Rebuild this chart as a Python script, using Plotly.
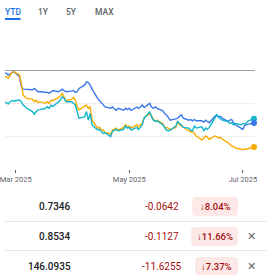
import pandas as pd
import plotly.graph_objects as go

# ---------------- data ----------------
dates = pd.bdate_range("2025-02-21", "2025-07-07")

blue_pct = [
    -0.5,
    -0.5, -0.76, -0.6, -0.35, -0.25,
    -1.0, -2.5, -2.9, -2.9, -3.0,
    -3.0, -2.8, -3.1, -3.3, -3.3,
    -3.3, -3.4, -3.5, -3.3, -3.1,
    -3.3, -3.1, -2.9, -3.1, -3.3,
    -3.2, -3.1, -3.4, -3.3, -2.8,
    -2.3, -1.8, -1.9, -2.3, -2.9,
    -4.3, -4.6, -4.9, -5.2, -5.6,
    -5.8, -5.6, -5.9, -6.1, -5.8,
    -6.1, -5.8, -6.0, -5.8, -6.1,
    -5.6, -5.8, -5.6, -5.3, -5.7,
    -5.05, -5.6, -5.8, -5.6, -5.8,
    -6.2, -6.6, -6.8, -7.2, -7.6,
    -7.4, -7.3, -7.0, -6.8, -7.3,
    -7.6, -7.5, -7.7, -7.5, -7.7,
    -7.7, -7.9, -7.6, -7.8, -8.0,
    -7.0, -6.8, -7.1, -7.0, -7.3,
    -7.8, -7.6, -7.5, -8.0, -8.3,
    -8.8, -9.0, -8.4, -8.3, -8.2,
    -8.04,
]
teal_pct = [
    -4.8,
    -4.95, -5.15, -4.8, -4.65, -4.7,
    -4.55, -4.8, -5.3, -5.55, -5.8,
    -6.3, -6.7, -6.3, -6.05, -6.0,
    -5.8, -5.55, -5.8, -5.3, -5.55,
    -4.8, -4.55, -4.05, -4.3, -4.8,
    -4.8, -5.05, -5.3, -6.3, -7.3,
    -7.1, -6.3, -7.6, -6.6, -8.3,
    -9.1, -9.0, -9.3, -9.6, -9.5,
    -10.1, -9.3, -9.1, -9.0, -9.2,
    -9.0, -8.5, -8.8, -8.7, -9.1,
    -8.7, -9.0, -8.7, -8.3, -7.3,
    -6.3, -7.1, -7.6, -7.8, -7.7,
    -8.3, -8.7, -9.1, -9.2, -9.1,
    -8.5, -7.8, -8.1, -8.3, -8.7,
    -8.8, -9.1, -9.2, -8.5, -8.8,
    -8.6, -9.2, -8.8, -9.0, -8.7,
    -7.3, -6.8, -7.2, -7.4, -7.6,
    -7.8, -8.1, -8.0, -8.3, -8.1,
    -8.3, -8.1, -8.2, -8.0, -7.7,
    -7.37,
]
yellow_pct = [
    -0.9,
    -1.0, -1.26, -0.76, -0.35, -0.25,
    -0.76, -2.0, -3.8, -4.1, -4.3,
    -4.4, -4.8, -4.55, -4.95, -4.8,
    -5.05, -4.8, -5.05, -4.55, -4.65,
    -4.15, -3.95, -3.55, -4.05, -4.65,
    -4.45, -4.15, -4.55, -5.55, -6.05,
    -5.55, -5.3, -5.8, -5.55, -7.6,
    -8.8, -8.7, -9.0, -9.1, -9.5,
    -9.7, -9.1, -9.0, -8.8, -9.1,
    -8.7, -8.3, -8.7, -8.5, -8.8,
    -8.3, -8.6, -8.3, -8.1, -7.2,
    -6.6, -7.0, -7.5, -7.7, -7.6,
    -8.1, -8.7, -8.7, -8.8, -9.0,
    -8.7, -7.8, -8.3, -8.5, -8.7,
    -9.2, -9.4, -9.3, -9.6, -10.0,
    -10.6, -10.3, -10.0, -10.2, -10.5,
    -10.0, -10.1, -10.3, -10.2, -10.5,
    -11.0, -11.3, -11.5, -11.6, -11.8,
    -12.0, -12.1, -12.0, -12.0, -11.9,
    -11.66,
]

tick_dates = ["2025-03-01", "2025-05-01", "2025-07-01"]
tick_labels = ["Mar 2025", "May 2025", "Jul 2025"]

tabs = ["YTD", "1Y", "5Y", "MAX"]

row_prices = ["0.7346", "0.8534", "146.0935"]
row_changes = ["-0.0642", "-0.1127", "-11.6255"]
row_pcts = ["↓8.04%", "↓11.66%", "↓7.37%"]
row_removable = [False, True, True]

# ---------------- figure ----------------
W = H = 280
BLUE = "#3b78e7"
TEAL = "#12b5cb"
YELLOW = "#f9ab00"
RED = "#a50e0e"


def px(x):
    return x / W


def py(y):
    return 1 - y / H


fig = go.Figure()
series = [(blue_pct, BLUE), (yellow_pct, YELLOW), (teal_pct, TEAL)]
for vals, col in series:
    fig.add_trace(go.Scatter(x=dates, y=vals, mode="lines",
                             line=dict(color=col, width=1.4),
                             hoverinfo="skip", showlegend=False))
for vals, col in [(yellow_pct, YELLOW), (teal_pct, TEAL), (blue_pct, BLUE)]:
    fig.add_trace(go.Scatter(x=[dates[-1]], y=[vals[-1]], mode="markers",
                             marker=dict(color=col, size=6),
                             cliponaxis=False, hoverinfo="skip",
                             showlegend=False))

fig.update_layout(
    width=W, height=H,
    margin=dict(l=0, r=0, t=0, b=0),
    paper_bgcolor="white", plot_bgcolor="white",
    font=dict(family="Roboto", color="#202124"),
    xaxis=dict(
        domain=[0, px(256)],
        range=["2025-02-23 06:00", "2025-07-07 08:00"],
        tickvals=tick_dates, ticktext=tick_labels,
        ticks="outside", ticklen=3, tickwidth=1, tickcolor="#5f6368",
        tickfont=dict(size=7.5, color="#5f6368"),
        ticklabeloverflow="allow",
        showgrid=False, zeroline=False, showline=False,
    ),
    yaxis=dict(
        domain=[py(169), py(37)],
        range=[-15, 5],
        tickvals=[-15, -10, -5, 0, 5],
        showticklabels=False,
        showgrid=True, gridcolor="#eceef0", gridwidth=1,
        zeroline=True, zerolinecolor="#9aa0a6", zerolinewidth=1.3,
        showline=False,
    ),
)

shapes = []
annotations = []

# tabs
tab_x = [8, 39.5, 68, 102]
for i, (t, cx) in enumerate(zip(tabs, tab_x)):
    annotations.append(dict(
        x=px(cx), y=py(12.5), xref="paper", yref="paper", text=t,
        showarrow=False, xanchor="center", yanchor="middle",
        font=dict(size=8.5, color="#1a73e8" if i == 0 else "#5f6368",
                  weight=500)))
shapes.append(dict(type="rect", xref="paper", yref="paper",
                   x0=px(0), x1=px(16), y0=py(20), y1=py(18),
                   fillcolor="#1a73e8", line=dict(width=0)))


def rrect(x0, y0, x1, y1, r):
    X0, X1 = px(x0), px(x1)
    Y0, Y1 = py(y0), py(y1)
    R = r / W
    return (f"M {X0+R},{Y0} L {X1-R},{Y0} Q {X1},{Y0} {X1},{Y0-R} "
            f"L {X1},{Y1+R} Q {X1},{Y1} {X1-R},{Y1} L {X0+R},{Y1} "
            f"Q {X0},{Y1} {X0},{Y1+R} L {X0},{Y0-R} Q {X0},{Y0} {X0+R},{Y0} Z")


row_y = [206.5, 236.5, 266]
badge_box = [(192, 197, 239, 216), (191, 227, 239, 246), (195, 257, 239, 275)]
for i in range(3):
    y = row_y[i]
    annotations.append(dict(
        x=px(70), y=py(y), xref="paper", yref="paper", text=row_prices[i],
        showarrow=False, xanchor="right", yanchor="middle",
        font=dict(size=10, color="#202124", weight=500)))
    annotations.append(dict(
        x=px(161), y=py(y), xref="paper", yref="paper", text=row_changes[i],
        showarrow=False, xanchor="center", yanchor="middle",
        font=dict(size=10, color=RED)))
    bx0, by0, bx1, by1 = badge_box[i]
    shapes.append(dict(type="path", xref="paper", yref="paper",
                       path=rrect(bx0, by0, bx1, by1, 4),
                       fillcolor="#fce8e6", line=dict(width=0), layer="below"))
    annotations.append(dict(
        x=px((bx0 + bx1) / 2), y=py((by0 + by1) / 2), xref="paper",
        yref="paper", text=row_pcts[i], showarrow=False,
        xanchor="center", yanchor="middle",
        font=dict(size=9.5, color=RED, weight=500)))
    if row_removable[i]:
        annotations.append(dict(
            x=px(253), y=py(y), xref="paper", yref="paper", text="✕",
            showarrow=False, xanchor="center", yanchor="middle",
            font=dict(size=11, color="#5f6368")))

for yd in [221.5, 250.5]:
    shapes.append(dict(type="line", xref="paper", yref="paper",
                       x0=0, x1=px(268), y0=py(yd), y1=py(yd),
                       line=dict(color="#e3e5e8", width=1)))

fig.update_layout(shapes=shapes, annotations=annotations)
fig.write_html("out.html")
